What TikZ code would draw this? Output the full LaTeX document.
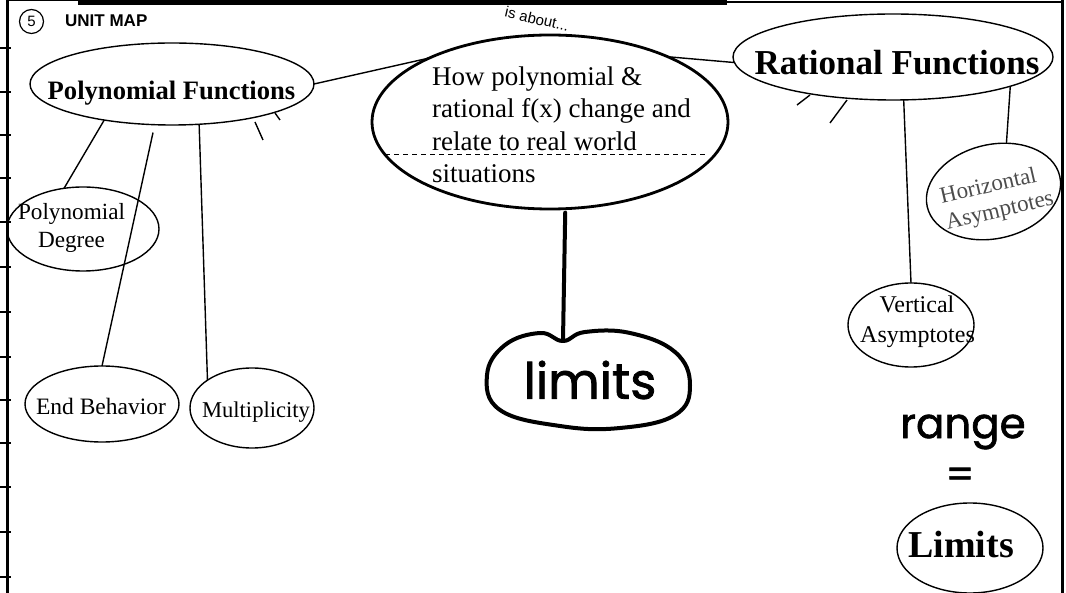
\documentclass[tikz,border=0pt]{standalone}
\usepackage{fontspec}
\setmainfont{Liberation Serif}
\newfontfamily\arialfont{Liberation Sans}
\newfontfamily\handfont[FakeBold=1.5]{Poppins}
\usetikzlibrary{shapes.geometric}
\begin{document}
\begin{tikzpicture}[x=1pt,y=-1pt,
  oval/.style={ellipse, draw, line width=1.4pt, inner sep=0pt, outer sep=0pt},
  thickoval/.style={oval, line width=2.8pt},
  conn/.style={line width=1.4pt},
  handline/.style={line width=4pt, line cap=round, line join=round},
  border/.style={line width=3pt},
  tickmark/.style={line width=1.4pt}]
\useasboundingbox (0,0) rectangle (1066,593);
% frame
\draw[border] (7,0) -- (7,593);
\draw[border] (1062,0) -- (1062,593);
\draw[line width=1pt] (7,1) -- (78,1);
\fill (78,0) rectangle (727,5);
\draw[line width=1.2pt] (727,2) -- (1062,2);
\foreach \yy in {48,92,135,178,222,267,312,357,400,443,487,532,577}
  \draw[tickmark] (0,\yy) -- (11,\yy);
% header
\node[circle, draw, line width=1.2pt, minimum size=24pt, inner sep=0pt, font=\arialfont\fontsize{15}{15}\selectfont] (num) at (31.5,21.5) {5};
\node[anchor=base west, inner sep=0pt, font=\arialfont\bfseries\fontsize{17}{17}\selectfont] (title) at (65,27) {UNIT MAP};
\node[rotate=-13, inner sep=0pt, font=\arialfont\fontsize{15}{15}\selectfont] (isabout) at (537,19) {is about...};
% ellipses
\node[oval, minimum width=284pt, minimum height=82pt] (pf) at (172,84) {};
\node[thickoval, minimum width=356pt, minimum height=174pt] (cm) at (550,122) {};
\node[oval, minimum width=320pt, minimum height=86pt] (rf) at (893,57) {};
\node[oval, minimum width=152pt, minimum height=84pt] (pd) at (83,229) {};
\node[oval, minimum width=154pt, minimum height=76pt] (eb) at (102,404) {};
\node[oval, minimum width=124pt, minimum height=80pt] (mu) at (252,408) {};
\node[oval, minimum width=136pt, minimum height=94pt, rotate=13] (ha) at (993.5,191.5) {};
\node[oval, minimum width=126pt, minimum height=84pt] (va) at (911,325) {};
\node[oval, minimum width=146pt, minimum height=90pt] (lm) at (970,548) {};
% texts
\node[anchor=base, inner sep=0pt, font=\bfseries\fontsize{26.6}{30}\selectfont] (pft) at (171.5,100) {Polynomial Functions};
\node[anchor=base, inner sep=0pt, font=\bfseries\fontsize{35}{40}\selectfont] (rft) at (897,75) {Rational Functions};
\node[anchor=north west, align=left, inner sep=0pt, font=\fontsize{27}{32.3}\selectfont] (cmt) at (432,66.6) {How polynomial \&\\rational f(x) change and\\relate to real world\\situations};
\node[anchor=base, inner sep=0pt, font=\fontsize{23.2}{28}\selectfont] (pdt1) at (71.5,220) {Polynomial};
\node[anchor=base, inner sep=0pt, font=\fontsize{23.2}{28}\selectfont] (pdt2) at (71.5,248) {Degree};
\node[anchor=base, inner sep=0pt, font=\fontsize{23.5}{28}\selectfont] (ebt) at (101,415) {End Behavior};
\node[anchor=base, inner sep=0pt, font=\fontsize{22.6}{28}\selectfont] (mut) at (256,418) {Multiplicity};
\node[anchor=base, inner sep=0pt, font=\fontsize{24}{30}\selectfont] (vat1) at (917,313) {Vertical};
\node[anchor=base, inner sep=0pt, font=\fontsize{24}{30}\selectfont] (vat2) at (917.5,343) {Asymptotes};
\node[rotate=13, inner sep=0pt, text=black!70, font=\fontsize{23}{29}\selectfont] (hat1) at (988,185) {Horizontal};
\node[rotate=13, inner sep=0pt, text=black!70, font=\fontsize{23}{29}\selectfont] (hat2) at (1000,212) {Asymptotes};
\node[anchor=base, inner sep=0pt, font=\bfseries\fontsize{38}{44}\selectfont] (lmt) at (961,557) {Limits};
% dashed line inside central ellipse
\draw[line width=1pt, dash pattern=on 5pt off 4pt] (385,155) -- (706,155);
% connectors
\draw[conn] (pf.east) -- (cm.152);
\draw[conn] (cm.29) -- (rf.182);
\draw[conn] (pf.208) -- (pd.115);
\draw[conn, shorten <=8pt] (pf.247) -- (eb.north);
\draw[conn] (pf.304) -- (mu.148);
\draw[conn] (rf.284) -- (va.north);
\draw[conn] (rf.346) -- (ha.62);
% stray tick marks
\draw[tickmark] (255,122) -- (263,140);
\draw[tickmark] (275,113) -- (280,120);
\draw[tickmark] (797,105) -- (810,95);
\draw[tickmark] (830,123) -- (847,100);
% hand-drawn part
\coordinate (limtop) at (563,340);
\draw[handline] plot[smooth cycle, tension=0.7] coordinates {(563,341) (540,333) (505,345) (487,375) (500,410) (560,426) (620,428) (675,415) (690,385) (675,352) (630,333) (585,332)};
\node[inner sep=0pt, font=\handfont\fontsize{50}{50}\selectfont] (limt) at (590,380) {limits};
\draw[handline, shorten <=4pt] (cm.280) -- (limtop);
\node[inner sep=0pt, font=\handfont\fontsize{42}{42}\selectfont] (range) at (963,432) {range};
\node[inner sep=0pt, font=\handfont\fontsize{40}{40}\selectfont] (eq) at (960,478) {=};
\end{tikzpicture}
\end{document}
